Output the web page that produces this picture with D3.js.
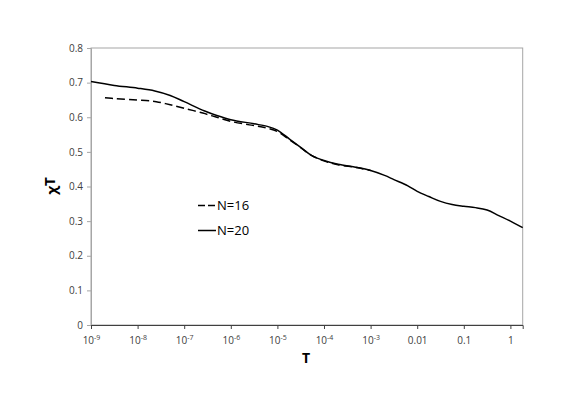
<!DOCTYPE html>
<html><head><meta charset="utf-8">
<script src="https://cdn.jsdelivr.net/npm/d3@7"></script>
<style>body{margin:0;background:#fff}svg{display:block}text{font-family:"Open Sans","Liberation Sans",sans-serif}</style>
</head><body><div id="c"></div>
<script>
// Data (log10 T, chi*T)
const logT20 = [-9,-8.5,-8,-7.63,-7.3,-7,-6.56,-6.3,-6,-5.5,-5.2,-5,-4.74,-4.5,-4.27,-4,-3.7,-3.3,-3,-2.7,-2.5,-2.2,-2,-1.75,-1.5,-1.25,-1,-0.75,-0.5,-0.25,0,0.264];
const chi20  = [0.703,0.692,0.684,0.676,0.663,0.645,0.618,0.605,0.593,0.581,0.573,0.563,0.537,0.513,0.49,0.475,0.464,0.455,0.446,0.432,0.42,0.402,0.386,0.371,0.357,0.348,0.343,0.339,0.332,0.316,0.3,0.281];
const logT16 = [-8.7,-8.5,-8,-7.6,-7.3,-7,-6.6,-6.3,-6,-5.6,-5.3,-5,-4.74,-4.5,-4.27,-4,-3.7,-3.3,-3];
const chi16  = [0.656,0.654,0.650,0.645,0.636,0.626,0.612,0.600,0.588,0.578,0.571,0.559,0.535,0.512,0.49,0.474,0.463,0.455,0.446];
const xTickVals = [1e-9,1e-8,1e-7,1e-6,1e-5,1e-4,1e-3,0.01,0.1,1];
const xTickLabels = [["10","-9"],["10","-8"],["10","-7"],["10","-6"],["10","-5"],["10","-4"],["10","-3"],["0.01",""],["0.1",""],["1",""]];
const yTickVals = [0,0.1,0.2,0.3,0.4,0.5,0.6,0.7,0.8];
const seriesNames = ["N=16","N=20"];

const W=588,H=415;
const L=91,R=522.7,T=48,B=325;
const svg=d3.select("#c").append("svg").attr("width",W).attr("height",H);
const x=d3.scaleLog().domain([1e-9,Math.pow(10,0.264)]).range([L,R]);
const y=d3.scaleLinear().domain([0,0.8]).range([B,T]);

// box
svg.append("rect").attr("x",L).attr("y",T).attr("width",R-L).attr("height",B-T)
  .attr("fill","none").attr("stroke","#a6a6a6").attr("stroke-width",1);

// y axis
const ya=svg.append("g").attr("transform",`translate(${L},0)`)
  .call(d3.axisLeft(y).tickValues(yTickVals).tickFormat(d=>d===0?"0":d3.format(".1f")(d)).tickSizeOuter(0).tickSize(4).tickPadding(4));
ya.select(".domain").attr("stroke","#a6a6a6");
ya.selectAll(".tick line").attr("stroke","#a6a6a6");
ya.selectAll("text").attr("font-size",10).attr("fill","#404040");

// x axis
const xa=svg.append("g").attr("transform",`translate(0,${B})`)
  .call(d3.axisBottom(x).tickValues(xTickVals).tickFormat("").tickSizeOuter(0).tickSize(4));
xa.select(".domain").attr("stroke","#404040");
xa.selectAll(".tick line").attr("stroke","#404040");
xa.selectAll(".tick").each(function(d,i){
  const t=d3.select(this).append("text").attr("y",19).attr("text-anchor","middle")
    .attr("font-size",10).attr("fill","#404040");
  const lab=xTickLabels[i];
  t.append("tspan").text(lab[0]);
  if(lab[1]) t.append("tspan").attr("dy",-4).attr("font-size",7).text(lab[1]);
});

// titles
svg.append("text").attr("x",306).attr("y",363).attr("text-anchor","middle")
  .attr("font-size",14).attr("font-weight","bold").attr("fill","#000").text("T");
const yt=svg.append("text").attr("transform","translate(57,186) rotate(-90)").attr("text-anchor","middle")
  .attr("font-size",15).attr("font-weight","bold").attr("fill","#000");
yt.append("tspan").text("χ");
yt.append("tspan").attr("dy",-2).text("T");

// lines
const line=d3.line().x(d=>x(Math.pow(10,d[0]))).y(d=>y(d[1])).curve(d3.curveCatmullRom.alpha(0.5));
const d16=logT16.map((v,i)=>[v,chi16[i]]);
const d20=logT20.map((v,i)=>[v,chi20[i]]);
svg.append("path").attr("d",line(d16)).attr("fill","none").attr("stroke","#000").attr("stroke-width",1.5).attr("stroke-dasharray","8,4");
svg.append("path").attr("d",line(d20)).attr("fill","none").attr("stroke","#000").attr("stroke-width",1.5);

// legend
const lg=svg.append("g");
[[205.5,"8,4"],[230.5,null]].forEach((p,i)=>{
  const l=lg.append("line").attr("x1",198).attr("x2",216).attr("y1",p[0]).attr("y2",p[0])
    .attr("stroke","#000").attr("stroke-width",1.5);
  if(p[1]) l.attr("stroke-dasharray","7,3");
  lg.append("text").attr("x",217).attr("y",p[0]+4.5).attr("font-size",13).attr("fill","#000").text(seriesNames[i]);
});
</script></body></html>
